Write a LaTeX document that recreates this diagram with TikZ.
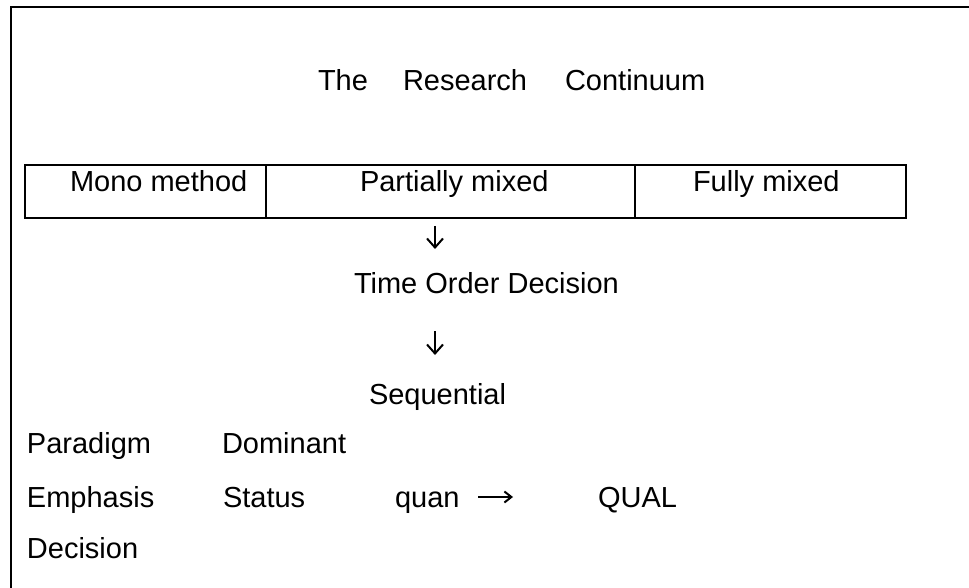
\documentclass[tikz,border=0pt]{standalone}
\usepackage{fontspec}
\setmainfont{Liberation Sans}
\usetikzlibrary{arrows.meta}
\begin{document}
\begin{tikzpicture}[x=1pt,y=-1pt,
  txt/.style={inner sep=0pt,outer sep=0pt,font=\fontsize{29}{34}\selectfont,anchor=base west},
  cell/.style={draw,line width=2pt,inner sep=0pt,minimum height=53pt,anchor=north west,font=\fontsize{29}{34}\selectfont},
  arr/.style={line width=2pt,-{Straight Barb[length=9pt,width=16pt,line width=2pt]}}]
\useasboundingbox (0,0) rectangle (969,588);
\fill[white] (0,0) rectangle (969,588);
\draw[line width=2pt] (11,589) -- (11,7) -- (970,7);
% title
\node[txt] (the) at (318,91) {The};
\node[txt] (research) at (403,91) {Research};
\node[txt] (continuum) at (565,91) {Continuum};
% table
\node[cell,minimum width=241pt] (mono) at (24,164) {};
\node[cell,minimum width=369pt] (partial) at (265,164) {};
\node[cell,minimum width=271pt] (full) at (634,164) {};
\node[txt] (monot) at (70,192) {Mono method};
\node[txt] (partialt) at (360,192) {Partially mixed};
\node[txt] (fullt) at (693,192) {Fully mixed};
% flow
\coordinate (a1s) at (435,226);
\coordinate (a1e) at (435,249);
\draw[arr] (a1s) -- (a1e);
\node[txt] (time) at (354,293) {Time Order Decision};
\coordinate (a2s) at (435,331);
\coordinate (a2e) at (435,355);
\draw[arr] (a2s) -- (a2e);
\node[txt] (seq) at (369,404) {Sequential};
% bottom
\node[txt] (paradigm) at (27,453) {Paradigm};
\node[txt] (dominant) at (222,453) {Dominant};
\node[txt] (emphasis) at (27,507) {Emphasis};
\node[txt] (status) at (223,507) {Status};
\node[txt] (quan) at (395,507) {quan};
\coordinate (a3s) at (478,497);
\coordinate (a3e) at (513,497);
\draw[arr,-{Straight Barb[length=7pt,width=11pt,line width=2pt]}] (a3s) -- (a3e);
\node[txt] (qual) at (598,507) {QUAL};
\node[txt] (decision) at (27,558) {Decision};
\end{tikzpicture}
\end{document}
